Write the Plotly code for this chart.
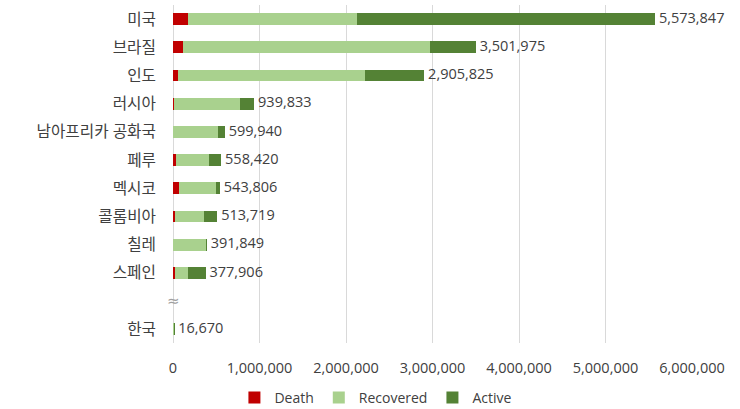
import plotly.graph_objects as go

countries = ["미국", "브라질", "인도", "러시아", "남아프리카 공화국", "페루", "멕시코", "콜롬비아", "칠레", "스페인", "한국"]
totals = [5573847, 3501975, 2905825, 939833, 599940, 558420, 543806, 513719, 391849, 377906, 16670]
death = [175000, 112000, 55000, 16000, 0, 35000, 68000, 23000, 0, 28000, 305]
recovered = [1955000, 2860000, 2160000, 755000, 521000, 380000, 430000, 333000, 381849, 150000, 14000]
active = [3443847, 529975, 690825, 168833, 78940, 143420, 45806, 157719, 10000, 199906, 2365]
x_ticks = [0, 1000000, 2000000, 3000000, 4000000, 5000000, 6000000]
break_after = "스페인"

# row positions: one blank slot (axis break) before the last country
gap_index = countries.index(break_after) + 1
ypos = [i if i < gap_index else i + 1 for i in range(len(countries))]

font_family = "Open Sans, Noto Sans CJK KR, sans-serif"
bar_w = 0.42

fig = go.Figure()
for name, vals, color in [("Death", death, "#c00000"),
                          ("Recovered", recovered, "#a9d18e"),
                          ("Active", active, "#548235")]:
    fig.add_trace(go.Bar(y=ypos, x=vals, name=name, orientation="h",
                         marker=dict(color=color, line=dict(width=0)),
                         width=bar_w))

fig.add_trace(go.Scatter(y=ypos, x=totals, mode="text",
                         text=["\u00a0" + f"{t:,}" for t in totals],
                         textposition="middle right",
                         textfont=dict(size=14.5, color="#404040", family=font_family),
                         showlegend=False, hoverinfo="skip", cliponaxis=False))

fig.add_annotation(x=0, y=gap_index, xref="x", yref="y", text="≈", showarrow=False,
                   font=dict(size=15, color="#a0a0a0", family="DejaVu Sans"))

fig.update_layout(
    width=740, height=409,
    margin=dict(l=173, r=48, t=5, b=63),
    barmode="stack",
    paper_bgcolor="white", plot_bgcolor="white",
    font=dict(family=font_family, color="#404040"),
    legend=dict(orientation="h", xref="container", yref="container",
                x=0.508, y=0.027, xanchor="center", yanchor="middle",
                font=dict(size=14, color="#404040"), itemwidth=30,
                traceorder="normal"),
    xaxis=dict(range=[0, 6000000], tickvals=x_ticks,
               ticktext=[f"{v:,}" for v in x_ticks],
               showgrid=True, gridcolor="#d9d9d9", gridwidth=1,
               zeroline=True, zerolinecolor="#d9d9d9", zerolinewidth=1,
               showline=False, ticks="", ticklabelstandoff=14,
               tickfont=dict(size=14.5, color="#404040")),
    yaxis=dict(range=[len(countries) + 0.5, -0.5], tickvals=ypos, ticktext=countries,
               showgrid=False, zeroline=False, showline=False, ticks="",
               ticklabelstandoff=16,
               tickfont=dict(size=15.7, color="#404040")),
)

fig.write_html("out.html", config={"displayModeBar": False},
               post_script="document.body.style.margin='0';document.body.style.overflow='hidden';")
